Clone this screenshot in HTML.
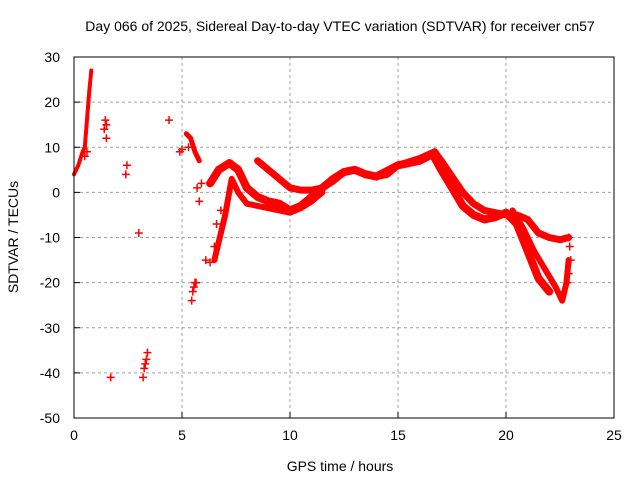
<!DOCTYPE html>
<html><head><meta charset="utf-8"><style>
body{margin:0;background:#fff}
svg{font-family:"Liberation Sans",sans-serif;font-size:14px}
</style></head><body>
<svg id="chart" width="640" height="480">
<text x="340" y="31" text-anchor="middle">Day 066 of 2025, Sidereal Day-to-day VTEC variation (SDTVAR) for receiver cn57</text>
<text x="340" y="471" text-anchor="middle">GPS time / hours</text>
<text transform="translate(18,237) rotate(-90)" text-anchor="middle">SDTVAR / TECUs</text>
<g id="grid"></g><g id="marks"></g>
<rect x="74" y="57" width="540" height="361" fill="none" stroke="#000"/>
</svg>
<script>
const xTicks=[0,5,10,15,20,25];
const yTicks=[30,20,10,0,-10,-20,-30,-40,-50];
const trackUpperH=[8.5,9,9.5,10,10.5,11,11.5,12,12.5,13,13.5,14,14.5,15,16,16.7,17,17.5,18,18.5,19,19.5,20,20.5,21,21.5,22,22.5,22.9];
const trackUpperV=[7,5,3,1,0.5,0.5,1,2.5,4.5,5,4,3.5,4,6,7.5,9,7,3.5,0,-2.5,-4,-4.5,-5,-5,-6,-9,-10,-10.5,-10];
const trackLowerH=[6.3,6.7,7.2,7.6,8,8.5,9,9.5,10,10.5,11,11.5,12,12.5,13,13.5,14,15,16,16.6,17,17.5,18,18.5,19,19.5,20,20.5,21,21.5,22];
const trackLowerV=[2,5,6.5,5,1,-1,-2,-2.5,-4,-3,-1,1,3,4.5,5,4,3.5,6,7,8.5,5,1,-3,-5,-6,-5.5,-4.5,-7,-13,-19,-22];
const trackMidH=[6.5,7,7.3,7.6,8,9,10,10.5,11,11.5];
const trackMidV=[-15,-5,3,0,-2.5,-3.5,-4.5,-3.5,-2,0];
const trackSouthH=[20.3,20.8,21.3,21.8,22.3,22.6,22.8,22.9];
const trackSouthV=[-4,-8,-13,-17,-21,-24,-20,-15];
const trackEarlyH=[0,0.2,0.4,0.5,0.6,0.7,0.8];
const trackEarlyV=[4,6,9,10,16,22,27];
const trackLateEarlyH=[5.2,5.4,5.6,5.8];
const trackLateEarlyV=[13,12,9,7];
const scatterH=[0.5,0.6,1.4,1.45,1.5,1.5,2.4,2.45,3.0,1.7,3.2,3.25,3.3,3.35,3.4,4.4,4.9,5.0,5.45,5.5,5.55,5.6,5.65,5.9,6.1,6.3,6.5,6.6,6.8,22.9,22.95,23.0,22.9,22.85,5.3,5.7,5.8];
const scatterV=[8,9,14,16,15,12,4,6,-9,-41,-41,-39,-38,-37,-35.5,16,9,9.5,-24,-22,-21,-20,-20,2,-15,-15.5,-12,-7,-4,-10,-12,-15,-18,-20,10,1,-2];
const X=h=>74+h*21.6, Y=v=>57+(30-v)*4.5125;
const NS="http://www.w3.org/2000/svg";
const grid=document.getElementById('grid'), marks=document.getElementById('marks');
function mk(tag,attrs,parent){const e=document.createElementNS(NS,tag);for(const k in attrs)e.setAttribute(k,attrs[k]);parent.appendChild(e);return e;}
xTicks.forEach(t=>{
  if(t>0&&t<25){const l=mk('line',{x1:X(t),x2:X(t),y1:57,y2:418,stroke:'#a0a0a0','stroke-dasharray':'3,3'},grid);
  
  }
  const tx=mk('text',{x:X(t),y:440,'text-anchor':'middle'},grid);tx.textContent=t;
  
  
  mk('line',{x1:X(t),x2:X(t),y1:418,y2:412,stroke:'#000'},grid);
});
yTicks.forEach(t=>{
  if(t<30&&t>-50){const l=mk('line',{x1:74,x2:614,y1:Y(t),y2:Y(t),stroke:'#a0a0a0','stroke-dasharray':'3,3'},grid);
  
  }
  const tx=mk('text',{x:60,y:Y(t)+5,'text-anchor':'end'},grid);tx.textContent=t;
  
  
  mk('line',{x1:74,x2:80,y1:Y(t),y2:Y(t),stroke:'#000'},grid);
});
function track(H,V,name,w){
  const p=mk('polyline',{points:H.map((h,i)=>X(h)+','+Y(V[i])).join(' '),fill:'none',stroke:'#f00','stroke-width':w,'stroke-linejoin':'round','stroke-linecap':'round'},marks);
  
  
}
track(trackUpperH,trackUpperV,'track-upper',7);
track(trackLowerH,trackLowerV,'track-lower',8);
track(trackMidH,trackMidV,'track-mid',6);
track(trackSouthH,trackSouthV,'track-south',6);
track(trackEarlyH,trackEarlyV,'track-early',4);
track(trackLateEarlyH,trackLateEarlyV,'track-late-early',5);
scatterH.forEach((h,i)=>{
  const x=X(h),y=Y(scatterV[i]);
  const p=mk('path',{d:`M${x-4},${y}H${x+4}M${x},${y-4}V${y+4}`,stroke:'#f00','stroke-width':1.5},marks);
  
  
});
</script>
</body></html>
